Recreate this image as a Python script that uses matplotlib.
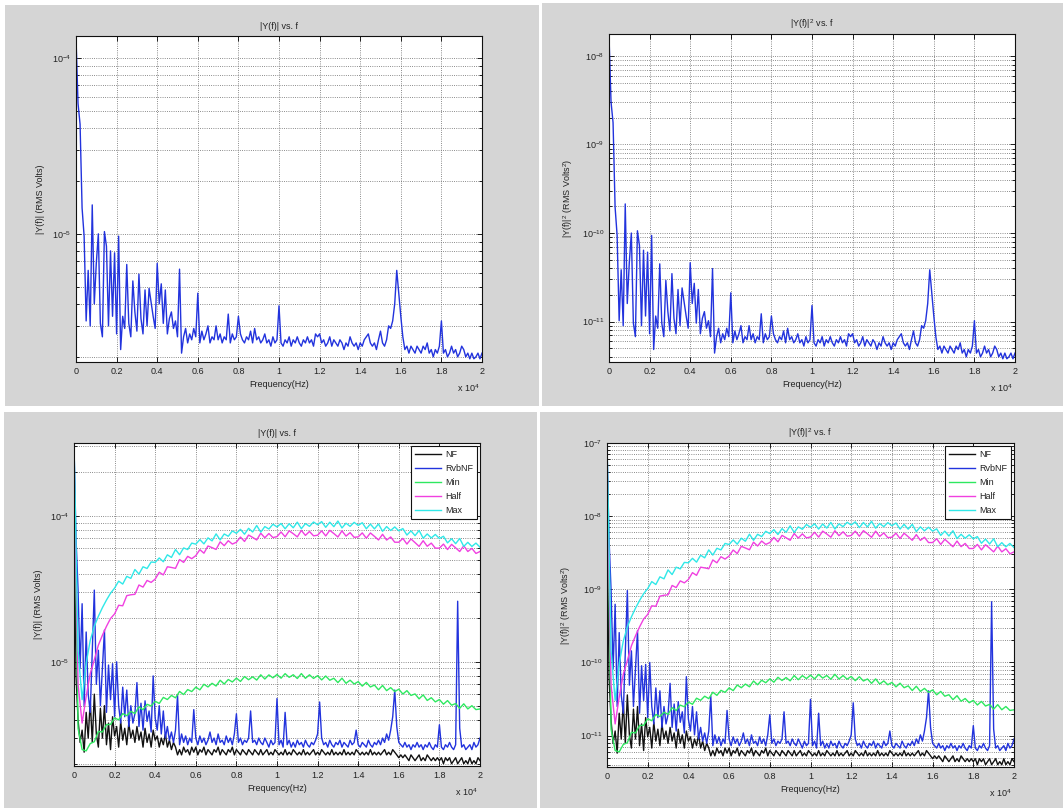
import numpy as np
import matplotlib
matplotlib.use('Agg')
import matplotlib.pyplot as plt
from matplotlib.patches import Rectangle
from matplotlib.ticker import LogLocator, NullFormatter

# ---------------- data (magnitudes in micro-volts RMS) ----------------
freq_fine = np.arange(0, 20001, 100)     # Hz, 201 points
freq_coarse = np.arange(0, 20001, 200)   # Hz, 101 points

top_Y_uV = [
    130, 55, 42, 14, 9.7, 3.2, 6.2, 3.0, 14.6, 4.0,
    6.8, 10.0, 3.1, 2.6, 10.3, 8.5, 3.0, 8.0, 3.4, 7.8,
    2.7, 9.7, 2.2, 3.4, 2.9, 6.7, 3.1, 2.6, 5.4, 3.6,
    2.8, 5.9, 3.3, 2.7, 4.8, 3.0, 4.9, 4.1, 3.4, 2.9,
    6.8, 4.0, 5.2, 3.1, 4.8, 2.7, 3.3, 3.6, 2.9, 3.2,
    2.6, 6.3, 2.1, 2.6, 2.9, 2.4, 2.7, 2.5, 2.9, 2.6,
    4.6, 2.4, 2.8, 2.5, 2.7, 3.0, 2.4, 2.6, 2.5, 3.0,
    2.5, 2.7, 2.4, 2.6, 2.5, 3.5, 2.4, 2.7, 2.5, 2.6,
    3.4, 2.7, 2.5, 2.4, 2.6, 2.5, 2.8, 2.4, 2.9, 2.5,
    2.6, 2.4, 2.5, 2.7, 2.4, 2.5, 2.3, 2.6, 2.4, 2.5,
    3.9, 2.4, 2.3, 2.5, 2.4, 2.6, 2.3, 2.5, 2.4, 2.6,
    2.4, 2.3, 2.5, 2.4, 2.6, 2.4, 2.5, 2.3, 2.7, 2.6,
    2.7, 2.4, 2.5, 2.3, 2.4, 2.6, 2.3, 2.5, 2.4, 2.3,
    2.5, 2.4, 2.2, 2.4, 2.3, 2.6, 2.4, 2.3, 2.4, 2.2,
    2.4, 2.3, 2.5, 2.6, 2.7, 2.4, 2.3, 2.4, 2.2, 2.5,
    2.8, 2.4, 2.3, 2.5, 3.0, 2.9, 3.2, 4.0, 6.2, 4.6,
    3.4, 2.6, 2.2, 2.3, 2.1, 2.3, 2.2, 2.1, 2.3, 2.2,
    2.1, 2.3, 2.2, 2.4, 2.1, 2.2, 2.0, 2.2, 2.1, 2.3,
    3.2, 2.1, 2.2, 2.0, 2.1, 2.3, 2.1, 2.2, 2.0, 2.1,
    2.3, 2.2, 2.0, 2.1, 1.95, 2.1, 1.95, 2.0, 2.1, 1.95,
    2.1,
]

nf_uV = [
    200, 8, 4, 2.8, 3.4, 2.4, 4.5, 3.0, 5.4, 2.8,
    6.0, 3.2, 2.6, 4.8, 3.0, 5.0, 2.7, 3.8, 2.5, 4.2,
    3.1, 3.6, 2.6, 3.9, 2.9, 3.5, 2.7, 3.8, 3.0, 3.4,
    2.8, 3.6, 2.9, 3.3, 2.6, 3.5, 2.8, 3.2, 2.6, 3.4,
    2.9, 3.1, 2.6, 3.0, 2.7, 3.2, 2.6, 2.9, 2.5, 2.8,
    2.6, 2.3, 2.5, 2.3, 2.6, 2.4, 2.5, 2.3, 2.6, 2.4,
    2.6, 2.3, 2.5, 2.4, 2.6, 2.3, 2.5, 2.4, 2.3, 2.5,
    2.4, 2.6, 2.3, 2.5, 2.4, 2.3, 2.5, 2.4, 2.6, 2.3,
    2.5, 2.4, 2.3, 2.5, 2.4, 2.3, 2.5, 2.4, 2.3, 2.5,
    2.4, 2.3, 2.5, 2.3, 2.4, 2.5, 2.3, 2.4, 2.3, 2.5,
    2.4, 2.3, 2.4, 2.3, 2.5, 2.3, 2.4, 2.3, 2.5, 2.4,
    2.3, 2.4, 2.3, 2.5, 2.3, 2.4, 2.3, 2.4, 2.5, 2.3,
    2.4, 2.3, 2.5, 2.4, 2.3, 2.4, 2.3, 2.5, 2.3, 2.4,
    2.3, 2.4, 2.3, 2.5, 2.3, 2.4, 2.3, 2.4, 2.3, 2.5,
    2.4, 2.3, 2.4, 2.3, 2.4, 2.3, 2.5, 2.3, 2.4, 2.3,
    2.4, 2.3, 2.4, 2.5, 2.3, 2.4, 2.3, 2.5, 2.4, 2.3,
    2.2, 2.3, 2.2, 2.3, 2.2, 2.1, 2.3, 2.2, 2.1, 2.2,
    2.3, 2.1, 2.2, 2.1, 2.3, 2.2, 2.1, 2.2, 2.1, 2.2,
    2.1, 2.2, 2.0, 2.2, 2.1, 2.2, 2.0, 2.1, 2.2, 2.0,
    2.1, 2.2, 2.0, 2.1, 2.0, 2.2, 2.0, 2.1, 2.0, 2.2,
    2.1,
]

rvbnf_uV = [
    300, 70, 31, 9, 25, 5, 16, 6, 4.5, 12,
    31, 7, 12, 5, 9, 16.5, 4.5, 9.5, 5.5, 9.7,
    4.2, 10, 5, 3.8, 6.7, 4.2, 6.4, 3.6, 5, 3.8,
    4.4, 7.2, 3.6, 5.2, 3.4, 5.4, 3.9, 4.6, 3.3, 8.0,
    4.1, 3.4, 5.0, 3.2, 4.6, 3.0, 3.6, 2.9, 3.3, 2.8,
    3.4, 5.9, 2.7, 3.2, 2.8, 3.1, 2.7, 3.0, 2.8, 4.7,
    3.0, 2.7, 3.1, 2.8, 3.0, 2.7, 2.9, 3.3, 2.8, 3.0,
    2.7, 3.2, 2.8, 2.9, 2.7, 3.1, 2.8, 3.0, 2.7, 3.2,
    4.4, 2.8, 3.0, 2.7, 2.9, 2.8, 3.0, 4.6, 2.8, 2.9,
    2.7, 3.0, 2.8, 2.7, 3.0, 2.8, 2.6, 2.9, 2.7, 2.8,
    5.6, 2.7, 2.9, 2.6, 4.5, 2.7, 2.9, 2.6, 2.8, 2.6,
    2.9, 2.7, 2.8, 2.6, 2.9, 2.7, 2.6, 2.8, 2.7, 2.9,
    3.2, 5.3, 3.0, 2.7, 2.8, 2.6, 2.9, 2.7, 2.6, 2.8,
    2.7, 2.9, 2.6, 2.8, 2.7, 2.6, 2.9, 2.7, 2.8, 3.4,
    2.7, 2.6, 2.8, 2.7, 2.6, 2.9, 2.7, 2.6, 2.8, 2.7,
    2.9, 2.7, 3.0, 2.8, 3.2, 2.9, 3.4, 4.2, 6.4, 3.6,
    2.8, 2.7, 2.6, 2.8, 2.6, 2.7, 2.5, 2.7, 2.6, 2.8,
    2.6, 2.7, 2.5, 2.7, 2.6, 2.8, 2.6, 2.5, 2.7, 2.6,
    3.7, 2.6, 2.5, 2.7, 2.6, 2.8, 2.6, 2.5, 2.7, 26,
    3.5, 2.6, 2.7, 2.5, 2.6, 2.7, 2.5, 2.8, 2.6, 2.7,
    3.0,
]

min_uV = [
    250, 3.5, 2.5, 2.45, 2.75, 2.83, 3.33, 3.3, 3.71, 3.72,
    4.12, 4.0, 4.41, 4.27, 4.57, 4.42, 4.91, 4.69, 5.11, 4.98,
    5.36, 5.18, 5.7, 5.51, 5.88, 5.66, 6.26, 5.96, 6.45, 6.25,
    6.7, 6.42, 7.01, 6.72, 7.12, 6.82, 7.47, 7.04, 7.56, 7.27,
    7.73, 7.33, 7.92, 7.53, 7.89, 7.49, 8.14, 7.62, 8.13, 7.76,
    8.19, 7.72, 8.29, 7.82, 8.15, 7.68, 8.3, 7.7, 8.14, 7.69,
    8.03, 7.51, 7.99, 7.47, 7.71, 7.2, 7.72, 7.12, 7.48, 7.04,
    7.31, 6.81, 7.22, 6.72, 6.92, 6.43, 6.88, 6.34, 6.65, 6.25,
    6.49, 6.01, 6.34, 5.88, 6.02, 5.57, 5.93, 5.43, 5.67, 5.31,
    5.51, 5.12, 5.42, 5.04, 5.17, 4.8, 5.15, 4.75, 5.0, 4.7,
    4.75,
]

half_uV = [
    250, 7, 3.8, 5.8, 8.3, 10.3, 13, 15.2, 17.5, 19.8,
    21.3, 24.4, 24.2, 28.4, 28.8, 29, 33.6, 32.5, 36.1, 35,
    36.9, 41.1, 39.4, 44.8, 44.3, 43.7, 50.2, 48, 52.8, 50.9,
    53.4, 58.7, 55.5, 62.2, 60.6, 58.9, 66.4, 62.5, 67.6, 64.1,
    66, 71.6, 66.8, 73.9, 71.2, 68.4, 76.1, 70.8, 75.7, 71,
    72.1, 77.6, 71.9, 79, 75.5, 71.8, 79.5, 73.5, 78.2, 73,
    73.7, 79, 72.9, 79.6, 75.7, 71.7, 79, 72.7, 76.8, 71.3,
    71.8, 76.5, 70.3, 76.4, 72.4, 68.4, 74.8, 68.3, 71.7, 66,
    66, 70.1, 64.1, 69.5, 65.6, 61.8, 67.6, 61.9, 65.1, 60.1,
    60.1, 64.1, 58.8, 63.8, 60.4, 57, 62.4, 57, 59.9, 55.3,
    57,
]

max_uV = [
    316, 12, 5.5, 9.8, 14, 17.5, 20.5, 23.5, 26.5, 29.5,
    32, 35.7, 34.1, 38.5, 37.3, 42.9, 39.9, 44.8, 43.6, 48.3,
    48, 51.5, 48.5, 54.1, 51.9, 58.8, 54.2, 60.3, 58.8, 65.1,
    64, 68.8, 64.3, 70.7, 67.4, 75.3, 68.4, 75.2, 72.5, 78.8,
    76, 80.9, 74.9, 82.2, 77.6, 85.9, 77.4, 84.5, 81.3, 87.7,
    84, 88.7, 81.6, 88.4, 82.9, 90.6, 81.7, 88.6, 84.8, 90.8,
    87, 91.4, 83.5, 90.5, 84.4, 92.2, 82.7, 89.1, 84.8, 90.3,
    86, 89.8, 81.6, 87.9, 81.5, 88.0, 78.4, 84.5, 79.4, 84,
    79, 81.9, 73.9, 79, 73.2, 79.5, 70.3, 75.2, 70.6, 74.6,
    70, 72.5, 65.3, 69.7, 64.5, 70, 61.8, 65.9, 61.7, 65.1,
    61,
]

legend_labels = ['NF', 'RvbNF', 'Min', 'Half', 'Max']
series_colors = ['#111111', '#2233dd', '#2ee860', '#f040e0', '#30e8e8']

xtick_values = [0, 2000, 4000, 6000, 8000, 10000, 12000, 14000, 16000, 18000, 20000]
xtick_labels = ['0', '0.2', '0.4', '0.6', '0.8', '1', '1.2', '1.4', '1.6', '1.8', '2']

tl_yticks = [1e-5, 1e-4]
tl_ylabels = ['$10^{-5}$', '$10^{-4}$']
tr_yticks = [1e-11, 1e-10, 1e-9, 1e-8]
tr_ylabels = ['$10^{-11}$', '$10^{-10}$', '$10^{-9}$', '$10^{-8}$']
bl_yticks = [1e-5, 1e-4]
bl_ylabels = ['$10^{-5}$', '$10^{-4}$']
br_yticks = [1e-11, 1e-10, 1e-9, 1e-8, 1e-7]
br_ylabels = ['$10^{-11}$', '$10^{-10}$', '$10^{-9}$', '$10^{-8}$', '$10^{-7}$']

# ---------------- figure ----------------
plt.rcParams['font.family'] = ['Liberation Sans', 'DejaVu Sans']
plt.rcParams['mathtext.fontset'] = 'custom'
plt.rcParams['mathtext.rm'] = 'Liberation Sans'
plt.rcParams['mathtext.it'] = 'Liberation Sans:italic'
plt.rcParams['mathtext.default'] = 'regular'

W, H = 1063, 808
fig = plt.figure(figsize=(W / 100, H / 100), dpi=100, facecolor='white')

PANEL = '#d5d5d5'
TXT = '#222222'


def px_rect(x0, y0, x1, y1):
    return (x0 / W, 1 - y1 / H, (x1 - x0) / W, (y1 - y0) / H)


for (x0, y0, x1, y1) in [(5, 5, 539, 406), (542, 3, 1063, 406),
                         (4, 412, 537, 808), (540, 412, 1063, 808)]:
    l, b, w, h = px_rect(x0, y0, x1, y1)
    fig.add_artist(Rectangle((l, b), w, h, transform=fig.transFigure,
                             facecolor=PANEL, edgecolor='none', zorder=-5))

ax_tl = fig.add_axes(px_rect(76, 36, 482, 362))
ax_tr = fig.add_axes(px_rect(609, 34, 1015, 362))
ax_bl = fig.add_axes(px_rect(74, 443, 480, 766))
ax_br = fig.add_axes(px_rect(607, 443, 1014, 767))


def style(ax, ylim, yticks, ylabels, ylabel, title):
    ax.set_facecolor('white')
    ax.set_yscale('log')
    ax.set_xlim(0, 20000)
    ax.set_ylim(*ylim)
    ax.set_xticks(xtick_values)
    ax.set_xticklabels(xtick_labels)
    ax.set_yticks(yticks)
    ax.set_yticklabels(ylabels)
    ax.yaxis.set_minor_locator(LogLocator(base=10, subs=np.arange(2, 10), numticks=50))
    ax.yaxis.set_minor_formatter(NullFormatter())
    ax.tick_params(which='both', direction='in', top=True, right=True,
                   labelsize=6.5, labelcolor=TXT, width=0.6, pad=3.5)
    ax.tick_params(which='major', length=3.5)
    ax.tick_params(which='minor', length=2)
    ax.grid(True, which='major', axis='both', linestyle=':', color='#666666', linewidth=0.6)
    ax.grid(True, which='minor', axis='y', linestyle=':', color='#666666', linewidth=0.6)
    for s in ax.spines.values():
        s.set_linewidth(0.8)
        s.set_color('#111111')
    ax.set_xlabel('Frequency(Hz)', fontsize=6.5, color=TXT, labelpad=3)
    ax.set_ylabel(ylabel, fontsize=6.5, color=TXT, labelpad=5)
    ax.set_title(title, fontsize=6.5, color=TXT, pad=5)
    ax.text(0.995, -0.08, r'x 10$^{4}$', transform=ax.transAxes, ha='right',
            va='center', fontsize=6.5, color=TXT)


top_Y = np.array(top_Y_uV) * 1e-6
nf = np.array(nf_uV) * 1e-6
rvbnf = np.array(rvbnf_uV) * 1e-6
mn = np.array(min_uV) * 1e-6
hf = np.array(half_uV) * 1e-6
mx = np.array(max_uV) * 1e-6

LW = 1.0
# top row
ax_tl.plot(freq_fine, top_Y, color=series_colors[1], lw=LW)
ax_tr.plot(freq_fine, top_Y ** 2, color=series_colors[1], lw=LW)

# bottom row
bottom_series = [(freq_fine, nf), (freq_fine, rvbnf), (freq_coarse, mn),
                 (freq_coarse, hf), (freq_coarse, mx)]
for (fx, yv), lab, col in zip(bottom_series, legend_labels, series_colors):
    ax_bl.plot(fx, yv, color=col, lw=LW, label=lab)
    ax_br.plot(fx, yv ** 2, color=col, lw=LW, label=lab)

style(ax_tl, (1.87e-6, 1.33e-4), tl_yticks, tl_ylabels,
      '|Y(f)| (RMS Volts)', '|Y(f)| vs. f')
style(ax_tr, (1.87e-6 ** 2, 1.33e-4 ** 2), tr_yticks, tr_ylabels,
      '|Y(f)|$^2$ (RMS Volts$^2$)', '|Y(f)|$^2$ vs. f')
style(ax_bl, (1.93e-6, 3.16e-4), bl_yticks, bl_ylabels,
      '|Y(f)| (RMS Volts)', '|Y(f)| vs. f')
style(ax_br, (1.93e-6 ** 2, 1e-7), br_yticks, br_ylabels,
      '|Y(f)|$^2$ (RMS Volts$^2$)', '|Y(f)|$^2$ vs. f')

for ax in (ax_bl, ax_br):
    leg = ax.legend(loc='upper right', fontsize=6.5, frameon=True, fancybox=False,
                    framealpha=1, edgecolor='#111111', handlelength=2.9,
                    handletextpad=0.4, labelspacing=0.55, borderpad=0.45,
                    borderaxespad=0.35)
    leg.get_frame().set_linewidth(0.8)
    for t in leg.get_texts():
        t.set_color(TXT)

fig.savefig('out.png', dpi=100, facecolor='white')
